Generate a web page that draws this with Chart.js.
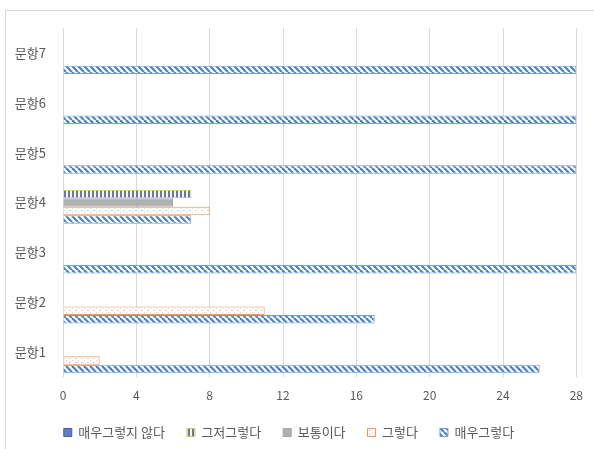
<!DOCTYPE html>
<html>
<head>
<meta charset="utf-8">
<script src="https://cdn.jsdelivr.net/npm/chart.js@4/dist/chart.umd.min.js"></script>
<style>
html,body{margin:0;padding:0;background:#fff;}
#wrap{position:relative;width:594px;height:449px;}
</style>
</head>
<body>
<div id="wrap"><canvas id="c" width="594" height="449"></canvas></div>
<script>
const categories = ['문항7','문항6','문항5','문항4','문항3','문항2','문항1'];
const seriesNames = ['매우그렇지 않다','그저그렇다','보통이다','그렇다','매우그렇다'];
const veryDisagree = [0,0,0,0,0,0,0];
const soSo = [0,0,0,7,0,0,0];
const neutral = [0,0,0,6,0,0,0];
const agree = [0,0,0,8,0,11,2];
const veryAgree = [28,28,28,7,28,17,26];
const xTicks = [0,4,8,12,16,20,24,28];

function makePattern(w,h,draw){
  const c=document.createElement('canvas');c.width=w;c.height=h;
  const g=c.getContext('2d');draw(g,w,h);
  return g.createPattern(c,'repeat');
}
const ctx=document.getElementById('c').getContext('2d');
const diag=makePattern(6,6,(g,w,h)=>{
  g.fillStyle='#ffffff';g.fillRect(0,0,w,h);
  g.strokeStyle='#4f81bd';g.lineWidth=2.2;
  for(let o=-6;o<=6;o+=6){g.beginPath();g.moveTo(o,0);g.lineTo(o+6,6);g.stroke();}
});
const vstripe=makePattern(4,4,(g,w,h)=>{
  g.fillStyle='#f7f7e4';g.fillRect(0,0,w,h);
  g.fillStyle='#6878a4';g.fillRect(0,0,2,h);
});
const dots=makePattern(6,4,(g,w,h)=>{
  g.fillStyle='#ffffff';g.fillRect(0,0,w,h);
  g.fillStyle='#f4c7a8';g.fillRect(0,0,1,1);
  g.fillStyle='#b9d3ee';g.fillRect(3,2,2,1);
});

const frame={id:'frame',beforeDraw(chart){
  const g=chart.ctx;g.save();g.fillStyle='#fff';g.fillRect(0,0,chart.width,chart.height);
  g.strokeStyle='#d9d9d9';g.lineWidth=1;g.strokeRect(5.5,10.5,1000,1000);g.restore();
}};

const font={family:"'Noto Sans CJK KR','Noto Sans',sans-serif",size:12};
const font13={family:"'Noto Sans CJK KR','Noto Sans',sans-serif",size:13};
new Chart(ctx,{
  type:'bar',
  data:{labels:categories,datasets:[
    {label:seriesNames[0],data:veryDisagree,backgroundColor:'#5b7fc2',borderColor:'#41609c',borderWidth:1},
    {label:seriesNames[1],data:soSo,backgroundColor:vstripe,borderColor:'#c3cc4e',borderWidth:1},
    {label:seriesNames[2],data:neutral,backgroundColor:'#b0b0b0',borderColor:'#a5a5a5',borderWidth:1},
    {label:seriesNames[3],data:agree,backgroundColor:dots,borderColor:'#e8945a',borderWidth:1},
    {label:seriesNames[4],data:veryAgree,backgroundColor:diag,borderColor:'#6fa3d8',borderWidth:1}
  ]},
  options:{
    indexAxis:'y',responsive:false,animation:false,
    devicePixelRatio:1,
    layout:{padding:{top:28,right:16,left:0,bottom:0}},
    datasets:{bar:{categoryPercentage:0.85,barPercentage:1}},
    scales:{
      x:{min:0,max:28,afterBuildTicks(s){s.ticks=xTicks.map(v=>({value:v}));},
        afterFit(s){s.height=27;},
        grid:{color:'#d9d9d9',drawTicks:false},border:{display:false},
        ticks:{color:'#595959',font,padding:11}},
      y:{grid:{display:false},border:{display:false},
        afterFit(s){s.width=63;},
        ticks:{color:'#595959',font:font13,padding:9}}
    },
    plugins:{
      tooltip:{enabled:false},
      legend:{position:'bottom',labels:{color:'#595959',font:font13,boxWidth:8,boxHeight:8,padding:22,
        generateLabels(chart){const l=Chart.defaults.plugins.legend.labels.generateLabels(chart);l.forEach(i=>i.lineWidth=1);return l;}}}
    }
  },
  plugins:[frame]
});
</script>
</body>
</html>
